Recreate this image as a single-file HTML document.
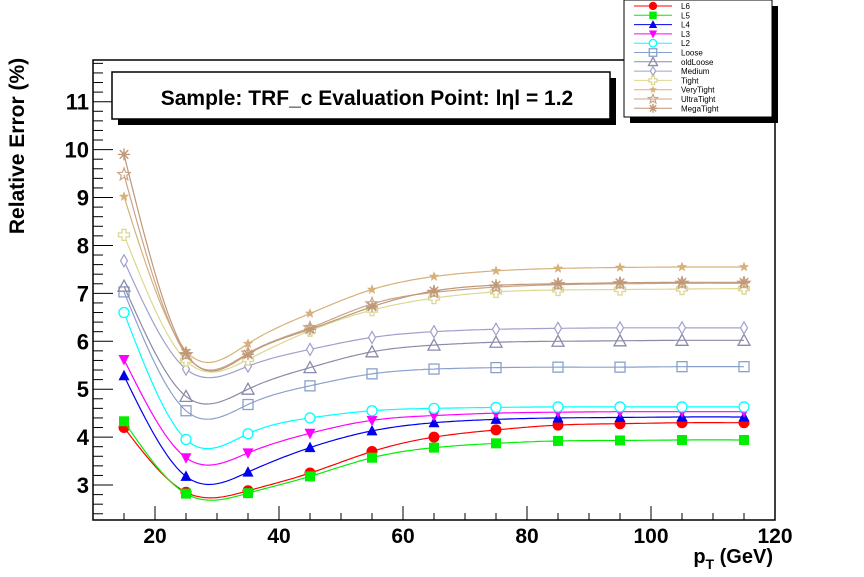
<!DOCTYPE html>
<html><head><meta charset="utf-8"><style>
html,body{margin:0;padding:0;background:#fff;}
svg{display:block;font-family:"Liberation Sans",Arial,sans-serif;}
</style></head><body>
<svg id="chart" width="864" height="577" viewBox="0 0 864 577">
  <rect x="0" y="0" width="864" height="577" fill="#fff"/>
  <g id="grid"></g>
  <rect x="93" y="60" width="682" height="460" fill="none" stroke="#000" stroke-width="1.5"/>
  <g id="axes"></g>
  <g id="series"></g>
  <text x="24" y="146" transform="rotate(-90 24 146)" text-anchor="middle" font-size="21" font-weight="bold">Relative Error (%)</text>
  <text x="773" y="563" text-anchor="end" font-size="20" font-weight="bold">p<tspan font-size="14" dy="6">T</tspan><tspan dy="-6"> (GeV)</tspan></text>
  <g>
    <rect x="118" y="78" width="498" height="47" fill="#000"/>
    <rect x="112" y="72" width="498" height="47" fill="#fff" stroke="#000" stroke-width="1.5"/>
    <text x="367" y="105" text-anchor="middle" font-size="21" font-weight="bold">Sample: TRF_c Evaluation Point: lηl = 1.2</text>
  </g>
  <g id="legend">
    <rect x="630" y="6" width="148" height="117" fill="#000"/>
    <rect x="624" y="0" width="148" height="117" fill="#fff" stroke="#000" stroke-width="1"/>
  </g>
</svg>
<script>
const xValues=[15,25,35,45,55,65,75,85,95,105,115];
const seriesNames=["L6","L5","L4","L3","L2","Loose","oldLoose","Medium","Tight","VeryTight","UltraTight","MegaTight"];
const L6=[4.2,2.85,2.88,3.25,3.7,4.0,4.15,4.25,4.28,4.3,4.3];
const L5=[4.33,2.82,2.83,3.18,3.57,3.78,3.87,3.92,3.93,3.94,3.94];
const L4=[5.28,3.18,3.27,3.78,4.13,4.3,4.37,4.4,4.41,4.42,4.42];
const L3=[5.62,3.57,3.67,4.08,4.35,4.45,4.5,4.52,4.53,4.53,4.53];
const L2=[6.6,3.95,4.07,4.4,4.55,4.6,4.62,4.63,4.63,4.63,4.63];
const Loose=[7.03,4.55,4.68,5.07,5.32,5.42,5.45,5.46,5.46,5.47,5.47];
const oldLoose=[7.15,4.85,5.0,5.45,5.78,5.92,5.98,6.0,6.01,6.02,6.02];
const Medium=[7.68,5.42,5.48,5.83,6.08,6.2,6.25,6.27,6.28,6.28,6.28];
const Tight=[8.22,5.6,5.62,6.22,6.65,6.9,7.03,7.07,7.08,7.09,7.1];
const VeryTight=[9.02,5.8,5.95,6.58,7.08,7.35,7.47,7.52,7.54,7.55,7.55];
const UltraTight=[9.48,5.72,5.75,6.28,6.78,7.02,7.13,7.18,7.2,7.21,7.21];
const MegaTight=[9.9,5.75,5.73,6.25,6.72,7.05,7.17,7.2,7.22,7.23,7.23];
const xTickLabels=[20,40,60,80,100,120];
const yTickLabels=[3,4,5,6,7,8,9,10,11];

const seriesData=[L6,L5,L4,L3,L2,Loose,oldLoose,Medium,Tight,VeryTight,UltraTight,MegaTight];
const colors=["#ff0000","#00ee00","#0000ee","#ff00ff","#00ffff","#8aa0cc","#8a8aaa","#a0a0cc","#dcd890","#d8b07a","#c8a488","#c09878"];
const markers=["circle","square","triUp","triDown","ocircle","osquare","otri","odiamond","ocross","fstar","ostar","asterisk"];
const NS="http://www.w3.org/2000/svg";
const X0=93,X1=775,Y0=520,Y1=60,XMIN=10,XMAX=120,YMIN=2.27,YMAX=11.87;
const sx=v=>X0+(v-XMIN)/(XMAX-XMIN)*(X1-X0);
const sy=v=>Y0-(v-YMIN)/(YMAX-YMIN)*(Y0-Y1);
function mk(tag,attrs,parent){const e=document.createElementNS(NS,tag);for(const k in attrs)e.setAttribute(k,attrs[k]);parent.appendChild(e);return e;}
const axes=document.getElementById('axes');
for(let v=10;v<=120;v+=5){const big=v%20===0;const x=sx(v);
 const t=mk('line',{x1:x,x2:x,y1:Y0,y2:Y0-(big?14:7),stroke:'#000','stroke-width':1},axes);
 
 }
xTickLabels.forEach(v=>{const t=mk('text',{x:sx(v),y:543,'text-anchor':'middle','font-size':21,'font-weight':'bold'},axes);t.textContent=v;
 
 });
for(let v=2.4;v<=11.85;v+=0.2){const r=Math.round(v*10)/10;const big=Math.abs(r-Math.round(r))<1e-6;const y=sy(r);
 const t=mk('line',{x1:X0,x2:X0+(big?20:10),y1:y,y2:y,stroke:'#000','stroke-width':1},axes);
 
 }
yTickLabels.forEach(v=>{const t=mk('text',{x:89,y:sy(v)+8,'text-anchor':'end','font-size':22,'font-weight':'bold'},axes);t.textContent=v;
 
 });
function spline(xs,ys){const n=xs.length,h=[],a=[],l=[1],mu=[0],z=[0],c=new Array(n).fill(0),b=[],d=[];
 for(let i=0;i<n-1;i++)h[i]=xs[i+1]-xs[i];
 for(let i=1;i<n-1;i++)a[i]=3/h[i]*(ys[i+1]-ys[i])-3/h[i-1]*(ys[i]-ys[i-1]);
 for(let i=1;i<n-1;i++){l[i]=2*(xs[i+1]-xs[i-1])-h[i-1]*mu[i-1];mu[i]=h[i]/l[i];z[i]=(a[i]-h[i-1]*z[i-1])/l[i];}
 for(let j=n-2;j>=0;j--){c[j]=(j<n-1&&j>0?z[j]:0)-mu[j]*c[j+1];b[j]=(ys[j+1]-ys[j])/h[j]-h[j]*(c[j+1]+2*c[j])/3;d[j]=(c[j+1]-c[j])/(3*h[j]);}
 const pts=[];for(let i=0;i<n-1;i++){for(let s=0;s<20;s++){const dx=h[i]*s/20;pts.push([xs[i]+dx,ys[i]+b[i]*dx+c[i]*dx*dx+d[i]*dx*dx*dx]);}}
 pts.push([xs[n-1],ys[n-1]]);return pts;}
function marker(type,x,y,col,g,s){s=s||1;let e;
 const star=(r1,r2)=>{let p=[];for(let k=0;k<10;k++){const r=k%2?r2:r1,a=-Math.PI/2+k*Math.PI/5;p.push((x+r*Math.cos(a)).toFixed(1)+','+(y+r*Math.sin(a)).toFixed(1));}return p.join(' ');};
 switch(type){
 case 'circle':e=mk('circle',{cx:x,cy:y,r:5.5*s,fill:col},g);break;
 case 'square':e=mk('rect',{x:x-5*s,y:y-5*s,width:10*s,height:10*s,fill:col},g);break;
 case 'triUp':e=mk('polygon',{points:`${x},${y-6*s} ${x-5.5*s},${y+4.5*s} ${x+5.5*s},${y+4.5*s}`,fill:col},g);break;
 case 'triDown':e=mk('polygon',{points:`${x},${y+6*s} ${x-5.5*s},${y-4.5*s} ${x+5.5*s},${y-4.5*s}`,fill:col},g);break;
 case 'ocircle':e=mk('circle',{cx:x,cy:y,r:5*s,fill:'#fff',stroke:col,'stroke-width':1.3},g);break;
 case 'osquare':e=mk('rect',{x:x-5*s,y:y-5*s,width:10*s,height:10*s,fill:'none',stroke:col,'stroke-width':1.3},g);break;
 case 'otri':e=mk('polygon',{points:`${x},${y-6*s} ${x-6*s},${y+5*s} ${x+6*s},${y+5*s}`,fill:'none',stroke:col,'stroke-width':1.3},g);break;
 case 'odiamond':e=mk('polygon',{points:`${x},${y-6*s} ${x-3.5*s},${y} ${x},${y+6*s} ${x+3.5*s},${y}`,fill:'#fff',stroke:col,'stroke-width':1.2},g);break;
 case 'ocross':{const a=2*s,b=5.5*s;e=mk('polygon',{points:`${x-a},${y-b} ${x+a},${y-b} ${x+a},${y-a} ${x+b},${y-a} ${x+b},${y+a} ${x+a},${y+a} ${x+a},${y+b} ${x-a},${y+b} ${x-a},${y+a} ${x-b},${y+a} ${x-b},${y-a} ${x-a},${y-a}`,fill:'#fff',stroke:col,'stroke-width':1.3},g);break;}
 case 'fstar':e=mk('polygon',{points:star(5.5*s,2.3*s),fill:col},g);break;
 case 'ostar':e=mk('polygon',{points:star(6.5*s,2.8*s),fill:'none',stroke:col,'stroke-width':1.2},g);break;
 case 'asterisk':{const p=[];for(let k=0;k<4;k++){const a=k*Math.PI/4,r=6*s;p.push(`M${x-r*Math.cos(a)},${y-r*Math.sin(a)}L${x+r*Math.cos(a)},${y+r*Math.sin(a)}`);}e=mk('path',{d:p.join(''),stroke:col,'stroke-width':1.4,fill:'none'},g);break;}
 }
 return e;}
const sg=document.getElementById('series');
seriesData.forEach((vals,i)=>{
 const g=mk('g',{},sg);
 
 
 const pts=spline(xValues,vals);
 const p=mk('path',{d:pts.map((q,k)=>(k?'L':'M')+sx(q[0]).toFixed(1)+','+sy(q[1]).toFixed(1)).join(''),fill:'none',stroke:colors[i],'stroke-width':1.2},g);
 
 
 xValues.forEach((xv,k)=>{const m=marker(markers[i],sx(xv),sy(vals[k]),colors[i],g);
  
  });
});
const lg=document.getElementById('legend');
seriesNames.forEach((nm,i)=>{const y=6+i*9.3;
 const e=mk('g',{},lg);
 
 
 mk('line',{x1:634,x2:672,y1:y,y2:y,stroke:colors[i],'stroke-width':1},e);
 marker(markers[i],653,y,colors[i],e,0.75);
 const t=mk('text',{x:681,y:y+3,'font-size':8},e);t.textContent=nm;});
</script>
</body></html>
